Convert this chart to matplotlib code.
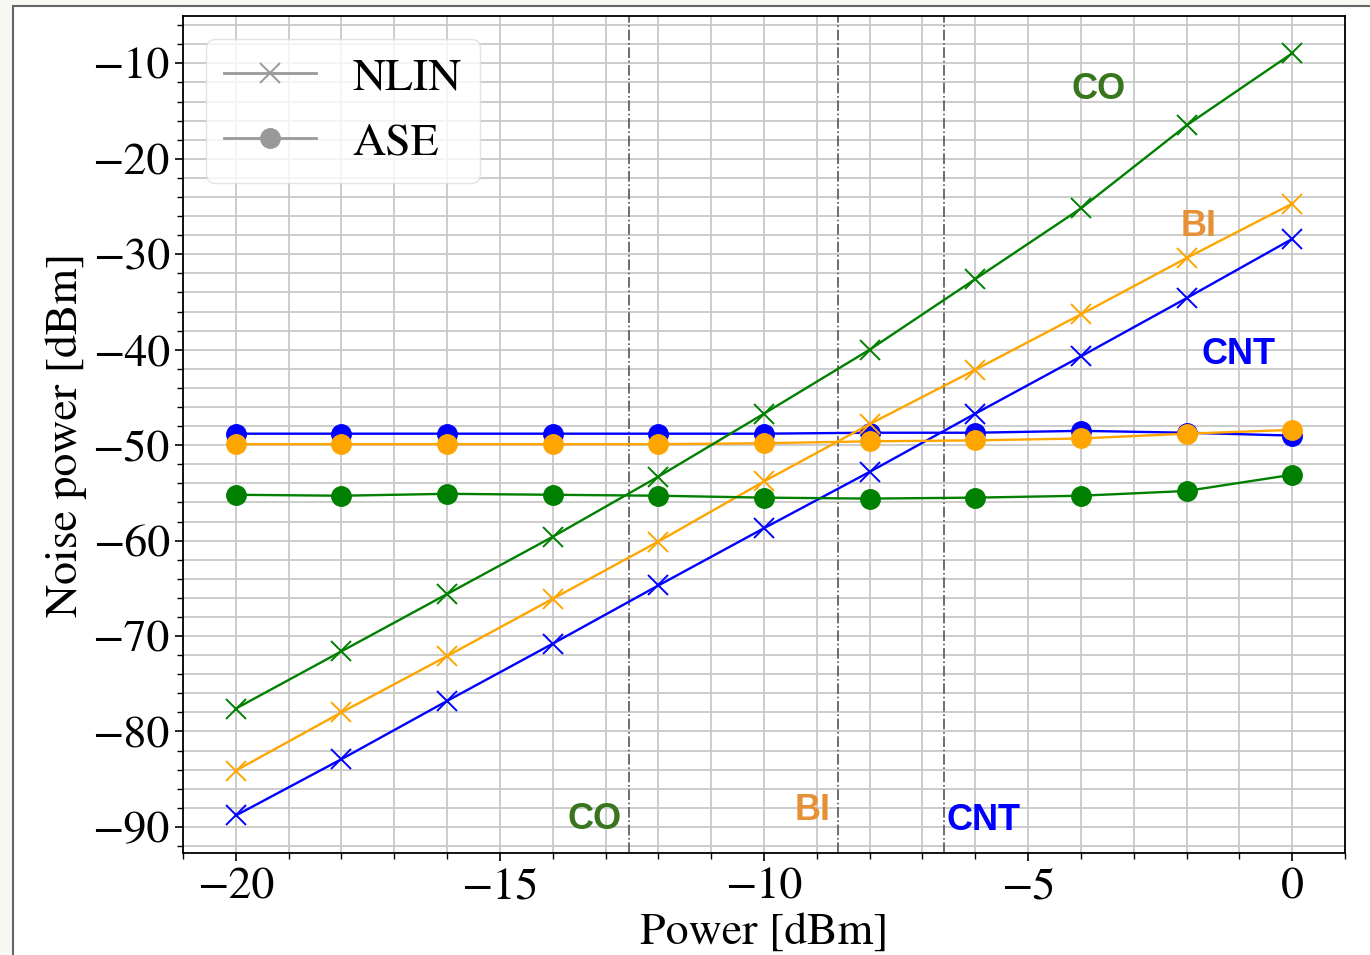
import matplotlib
matplotlib.use("Agg")
import matplotlib.pyplot as plt
from matplotlib.patches import Rectangle
from matplotlib.lines import Line2D
from matplotlib.ticker import MultipleLocator

# launch power sweep [dBm]
power = [-20, -18, -16, -14, -12, -10, -8, -6, -4, -2, 0]

# NLIN noise power [dBm]
nlin_co = [-77.6, -71.6, -65.6, -59.6, -53.3, -46.7, -40.0, -32.6, -25.2, -16.5, -8.95]
nlin_bi = [-84.1, -78.0, -72.1, -66.1, -60.1, -53.8, -47.8, -42.1, -36.3, -30.4, -24.7]
nlin_cnt = [-88.8, -82.9, -76.8, -70.8, -64.7, -58.7, -52.8, -46.7, -40.7, -34.6, -28.4]

# ASE noise power [dBm]
ase_co = [-55.2, -55.3, -55.1, -55.2, -55.3, -55.5, -55.6, -55.5, -55.3, -54.8, -53.1]
ase_bi = [-49.9, -49.9, -49.9, -49.9, -49.9, -49.8, -49.6, -49.5, -49.3, -48.8, -48.4]
ase_cnt = [-48.8, -48.8, -48.8, -48.8, -48.8, -48.8, -48.7, -48.7, -48.5, -48.7, -49.0]

# optimum power (NLIN = ASE crossing)
opt_power = [-12.55, -8.6, -6.6]

schemes = ["CNT", "BI", "CO"]
line_colors = {"CO": "green", "BI": "orange", "CNT": "blue"}
text_colors = {"CO": "#38761d", "BI": "#e69138", "CNT": "#0000ff"}
nlin = {"CO": nlin_co, "BI": nlin_bi, "CNT": nlin_cnt}
ase = {"CO": ase_co, "BI": ase_bi, "CNT": ase_cnt}

# labels near the NLIN curves and next to the optimum lines
top_labels = {"CO": (-3.67, -12.7), "BI": (-1.77, -27.1), "CNT": (-1.01, -40.5)}
bottom_labels = {"CO": (-13.2, -89.2), "BI": (-9.07, -88.3), "CNT": (-5.85, -89.3)}

plt.rcParams["font.family"] = "STIXGeneral"
plt.rcParams["mathtext.fontset"] = "stix"

fig = plt.figure(figsize=(13.7, 9.55), dpi=100)
fig.patch.set_facecolor("#f8f7f2")
fig.patches.append(Rectangle((13 / 1370, -0.01), 1.0, 1 - 6 / 955 + 0.01,
                             transform=fig.transFigure, facecolor="white",
                             edgecolor="#666666", linewidth=1.5, zorder=-5))

ax = fig.add_axes([183 / 1370, 1 - 853 / 955, (1345 - 183) / 1370, (853 - 16) / 955])
ax.set_zorder(2)

for s in schemes:
    c = line_colors[s]
    ax.plot(power, ase[s], marker="o", color=c, linewidth=1.7, markersize=14, zorder=3)
    ax.plot(power, nlin[s], marker="x", color=c, linewidth=1.7, markersize=15,
            markeredgewidth=1.4, zorder=3)

for xv in opt_power:
    ax.axvline(xv, color="#555555", linestyle="-.", linewidth=1.2, zorder=2)

for s in schemes:
    x, y = top_labels[s]
    ax.text(x, y, s, color=text_colors[s], fontsize=26, fontweight="bold",
            family="Liberation Sans", ha="center", va="center", zorder=4)
    x, y = bottom_labels[s]
    ax.text(x, y, s, color=text_colors[s], fontsize=26, fontweight="bold",
            family="Liberation Sans", ha="center", va="center", zorder=4)

ax.set_xlim(-21, 1)
ax.set_ylim(-92.73, -5.04)
ax.xaxis.set_major_locator(MultipleLocator(5))
ax.xaxis.set_minor_locator(MultipleLocator(1))
ax.yaxis.set_major_locator(MultipleLocator(10))
ax.yaxis.set_minor_locator(MultipleLocator(2))
ax.grid(True, which="both", color="#c8c8c8", linewidth=1.3)
ax.set_axisbelow(True)
ax.tick_params(which="major", labelsize=33, length=6, width=1.2)
ax.tick_params(axis="x", which="major", pad=4)
ax.tick_params(which="minor", length=4, width=1)
for sp in ax.spines.values():
    sp.set_linewidth(1.3)

ax.set_xlabel("Power [dBm]", fontsize=33, labelpad=3)
ax.set_ylabel("Noise power [dBm]", fontsize=33, labelpad=4)

handles = [Line2D([], [], color="#999999", marker="x", markersize=15, linewidth=2, markeredgewidth=1.4),
           Line2D([], [], color="#999999", marker="o", markersize=14, linewidth=2)]
leg = ax.legend(handles, ["NLIN", "ASE"], loc="upper left", fontsize=33, framealpha=0.8,
                borderaxespad=0.5, handlelength=2.0)
leg.get_frame().set_edgecolor("#dddddd")

fig.savefig("out.png", dpi=100, facecolor=fig.get_facecolor())
